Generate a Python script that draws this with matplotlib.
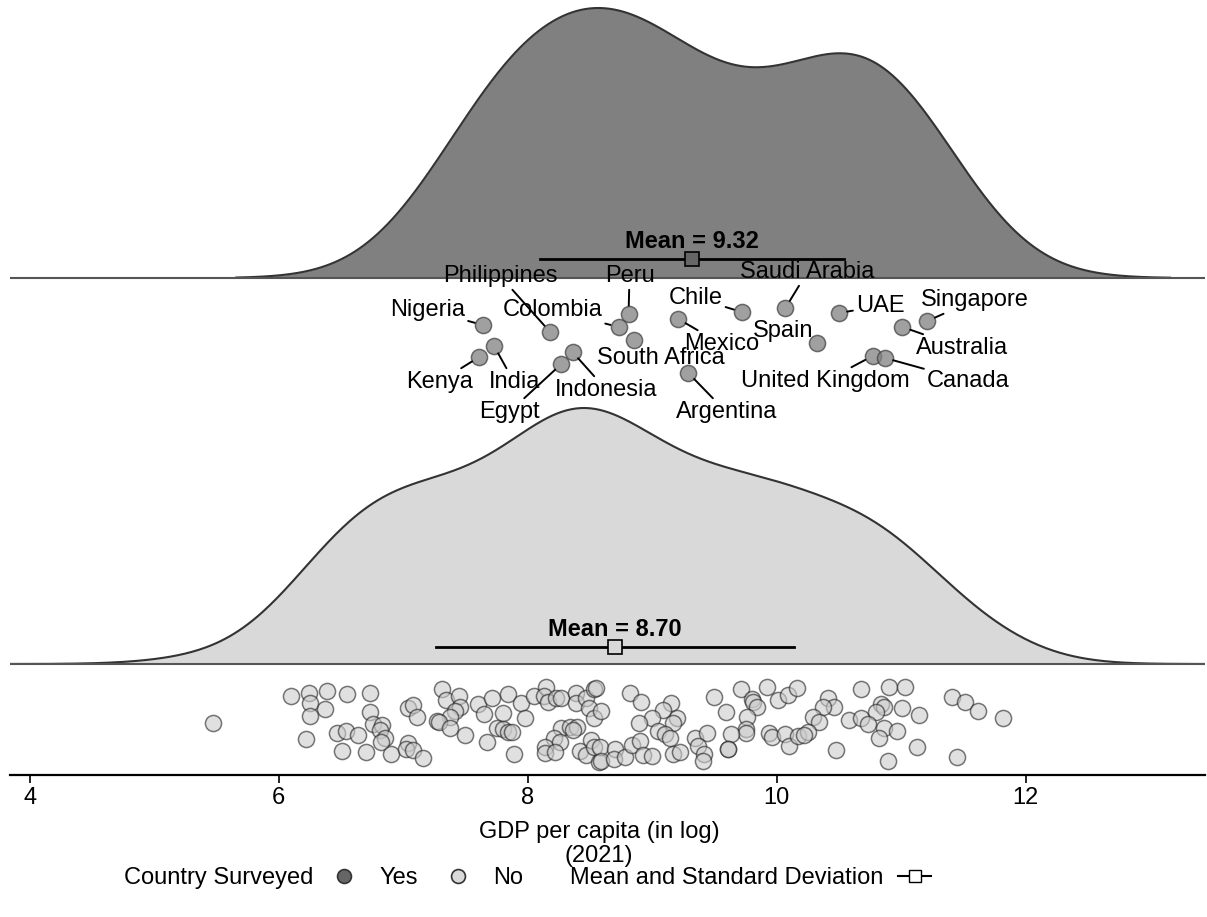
import numpy as np
import matplotlib.pyplot as plt
from matplotlib.lines import Line2D

plt.rcParams['font.family'] = ['Liberation Sans', 'DejaVu Sans']
FS = 17

# surveyed countries: log GDP per capita and vertical jitter
yes_names = ['Nigeria', 'Philippines', 'Colombia', 'Peru', 'South Africa', 'Kenya',
             'India', 'Egypt', 'Indonesia', 'Mexico', 'Argentina', 'Chile',
             'Saudi Arabia', 'Spain', 'UAE', 'Australia', 'Singapore',
             'United Kingdom', 'Canada']
yes_gdp = [7.64, 8.18, 8.73, 8.81, 8.85, 7.61, 7.73, 8.27, 8.36, 9.21, 9.29, 9.72,
           10.07, 10.32, 10.50, 11.01, 11.21, 10.77, 10.87]
yes_jit = [450, 443, 448, 461, 435, 418, 429, 411, 423, 456, 402, 463,
           467, 432, 462, 448, 454, 419, 417]
# label offsets (pixels) from the point
label_dx = [-55, -50, -66, 1, 27, -40, 20, -52, 34, 43, 38, -46, 22, -33, 41, 60, 47, -47, 83]
label_dy = [15, 56, 17, 38, -18, -25, -36, -48, -38, -25, -39, 14, 36, 12, 7, -21, 21, -25, -23]
no_line = {'South Africa', 'Spain'}

# non-surveyed countries
no_gdp = [5.47, 6.10, 6.24, 6.25, 6.39, 6.37, 6.25, 6.55, 6.73, 6.73, 6.22, 6.47, 6.54,
          6.64, 6.51, 6.70, 6.76, 6.83, 6.81, 6.85, 6.82, 6.90, 7.04, 7.02, 7.08, 7.16,
          7.04, 7.08, 7.11, 7.31, 7.34, 7.45, 7.46, 7.42, 7.38, 7.27, 7.29, 7.38, 7.50,
          7.60, 7.71, 7.65, 7.84, 7.80, 7.95, 7.98, 7.75, 7.80, 7.84, 7.87, 7.67, 7.89,
          8.05, 8.15, 8.13, 8.16, 8.23, 8.27, 8.39, 8.39, 8.47, 8.53, 8.55, 8.49, 8.53,
          8.27, 8.34, 8.40, 8.36, 8.21, 8.26, 8.14, 8.14, 8.22, 8.42, 8.47, 8.51, 8.53,
          8.57, 8.59, 8.82, 8.91, 9.15, 9.09, 9.00, 8.89, 9.20, 9.17, 9.05, 9.10, 9.14,
          8.58, 8.59, 8.70, 8.69, 8.78, 8.84, 8.90, 8.93, 9.00, 9.17, 9.22, 9.34, 9.44,
          9.37, 9.42, 9.41, 9.50, 9.59, 9.71, 9.80, 9.81, 9.84, 9.76, 9.75, 9.75, 9.63,
          9.61, 9.61, 9.92, 10.01, 10.09, 10.16, 9.94, 9.96, 10.07, 10.10, 10.17, 10.41,
          10.46, 10.37, 10.29, 10.34, 10.25, 10.22, 10.48, 10.68, 10.90, 11.03, 10.84,
          10.86, 10.80, 10.58, 10.68, 10.73, 11.01, 11.14, 10.86, 10.97, 10.82, 11.13,
          10.89, 11.41, 11.51, 11.62, 11.82, 11.45]
no_jit = [52, 79, 82, 72, 84, 66, 59, 81, 82, 63, 36, 42, 44,
          40, 24, 23, 51, 50, 45, 37, 33, 21, 32, 26, 25, 17,
          67, 70, 58, 86, 75, 79, 68, 64, 58, 54, 53, 47, 40,
          71, 77, 61, 81, 62, 72, 57, 47, 46, 43, 43, 33, 21,
          79, 88, 79, 73, 77, 77, 82, 72, 77, 86, 87, 67, 57,
          47, 48, 48, 45, 37, 33, 28, 22, 23, 24, 20, 35, 28,
          13, 64, 82, 73, 72, 65, 57, 52, 57, 52, 44, 41, 37,
          28, 14, 26, 16, 18, 30, 34, 20, 19, 21, 23, 37, 42,
          29, 21, 14, 78, 63, 86, 76, 73, 68, 58, 46, 42, 41,
          26, 26, 88, 75, 80, 87, 42, 38, 41, 29, 39, 77,
          68, 68, 58, 53, 43, 40, 25, 86, 88, 88, 71,
          68, 63, 55, 57, 51, 67, 60, 47, 44, 37, 28,
          14, 78, 73, 64, 57, 18]

yes_mean, yes_sd = 9.32, 1.22
no_mean, no_sd = 8.70, 1.44


def kde(vals, grid):
    v = np.asarray(vals)
    n = len(v)
    q75, q25 = np.percentile(v, [75, 25])
    bw = 0.9 * min(v.std(ddof=1), (q75 - q25) / 1.34) * n ** -0.2
    d = np.exp(-0.5 * ((grid[:, None] - v[None, :]) / bw) ** 2).sum(1)
    return d / (n * bw * np.sqrt(2 * np.pi))


fig = plt.figure(figsize=(12.07, 9.17), dpi=100)
ax = fig.add_axes([10 / 1207, 142 / 917, 1195 / 1207, 775 / 917])
ax.set_xlim(3.842, 13.44)
ax.set_ylim(0, 775)

# data, baseline, peak height, fill, mean, sd, bar offset, square colour, cut
groups = [(yes_gdp, 497, 270, '#808080', yes_mean, yes_sd, 19, '#666666', 1.95),
          (no_gdp, 111, 256, '#d9d9d9', no_mean, no_sd, 17, '#d9d9d9', 2.5)]
for vals, base, height, fill, m, sd, off, sq, cut in groups:
    grid = np.linspace(min(vals) - cut, max(vals) + cut, 600)
    d = kde(vals, grid)
    y = base + d / d.max() * height
    ax.fill_between(grid, base, y, color=fill, lw=0, zorder=1)
    ax.plot(grid, y, color='#333333', lw=1.5, zorder=2)
    ax.axhline(base, color='#555555', lw=1.5, zorder=2)
    ax.plot([m - sd, m + sd], [base + off, base + off], color='black', lw=2, zorder=3)
    ax.plot([m], [base + off], marker='s', ms=9.4, mfc=sq, mec='black', mew=1.2, zorder=4)
    ax.text(m, base + off + 18, f'Mean = {m:.2f}', ha='center', va='center',
            fontsize=FS, fontweight='bold', zorder=4)

ax.scatter(no_gdp, no_jit, s=135, facecolor='#cccccc', edgecolor='#222222',
           linewidth=1.1, alpha=0.6, zorder=3)
ax.scatter(yes_gdp, yes_jit, s=135, facecolor='#808080', edgecolor='#444444',
           linewidth=1.1, alpha=0.75, zorder=3)

for name, gx, gy, dx, dy in zip(yes_names, yes_gdp, yes_jit, label_dx, label_dy):
    arrow = None
    if name not in no_line:
        arrow = dict(arrowstyle='-', color='black', lw=1.4, shrinkA=0, shrinkB=6)
    ax.annotate(name, xy=(gx, gy), xytext=(dx, dy), textcoords='offset pixels',
                ha='center', va='center', fontsize=FS, arrowprops=arrow, zorder=5)

for s in ['left', 'right', 'top']:
    ax.spines[s].set_visible(False)
ax.spines['bottom'].set_linewidth(1.6)
ax.set_yticks([])
ax.set_xticks([4, 6, 8, 10, 12])
ax.tick_params(axis='x', length=6, width=1.2, labelsize=FS, pad=3)
ax.set_xlabel('GDP per capita (in log)\n(2021)', fontsize=FS, linespacing=1.15,
              labelpad=8, x=(599 - 10) / 1195)

ly = 1 - 878 / 917
fig.text(313 / 1207, ly, 'Country Surveyed', ha='right', va='center', fontsize=FS)
h_yes = Line2D([], [], ls='', marker='o', ms=10, mfc='#666666', mec='#333333', mew=1.2)
h_no = Line2D([], [], ls='', marker='o', ms=10, mfc='#d9d9d9', mec='#333333', mew=1.2)
fig.legend(handles=[h_yes, h_no], labels=['Yes', 'No'], loc='center left',
           bbox_to_anchor=(332 / 1207, ly), ncol=2, frameon=False, fontsize=FS,
           handlelength=1, handletextpad=1.0, columnspacing=1.2,
           borderpad=0, borderaxespad=0)
fig.text(570 / 1207, ly, 'Mean and Standard Deviation', ha='left', va='center', fontsize=FS)
h_ms = Line2D([], [], color='black', lw=1.5, marker='s', ms=8, mfc='white', mec='black')
fig.legend(handles=[h_ms], labels=[''], loc='center left', bbox_to_anchor=(898 / 1207, ly),
           frameon=False, fontsize=FS, handlelength=1.4, handletextpad=0,
           borderpad=0, borderaxespad=0)

fig.savefig('out.png', dpi=100)
